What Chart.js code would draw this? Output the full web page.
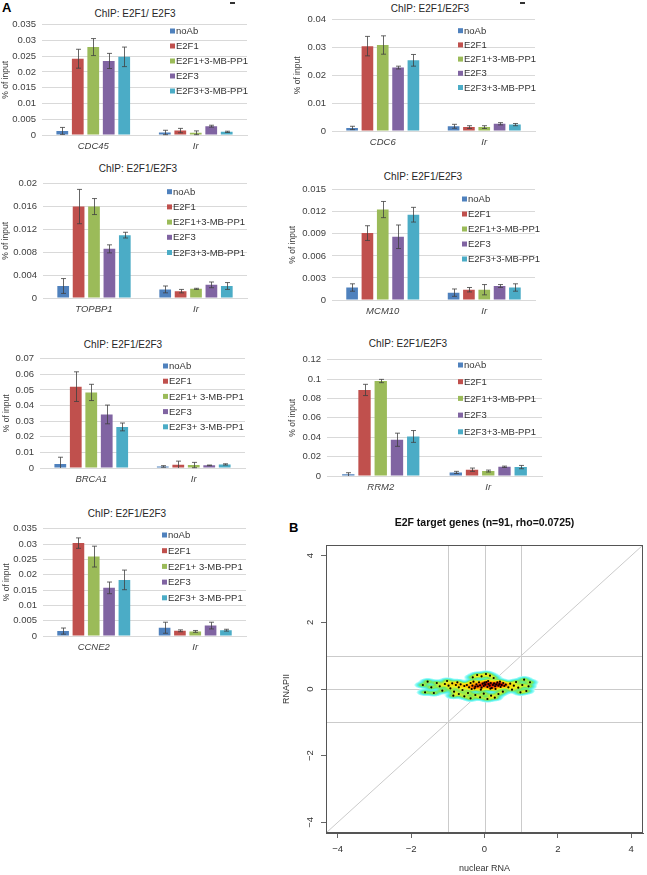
<!DOCTYPE html>
<html>
<head>
<meta charset="utf-8">
<script src="https://cdn.jsdelivr.net/npm/chart.js@4.4.1/dist/chart.umd.min.js"></script>
<style>
  body { margin: 0; background: #fff; font-family: "Liberation Sans", Arial, sans-serif; }
  #page { position: relative; width: 647px; height: 875px; overflow: hidden; }
  .box { position: absolute; }
  .ttl { position: absolute; font-size: 10px; color: #262626; white-space: nowrap; transform: translate(-50%, -50%); }
  .tag { position: absolute; font-weight: bold; font-size: 13px; color: #000; }
  .dash { position: absolute; width: 5px; height: 1.5px; background: #333; }
</style>
</head>
<body>
<div id="page">
  <div class="tag" style="left:2px;top:0px">A</div>
  <div class="tag" style="left:289px;top:520px">B</div>
  <div class="dash" style="left:230px;top:2px"></div>
  <div class="dash" style="left:520px;top:2px"></div>
</div>
<script>
// series names (two spellings are used on the figure)
const SERIES = ['noAb', 'E2F1', 'E2F1+3-MB-PP1', 'E2F3', 'E2F3+3-MB-PP1'];
const SERIES_SP = ['noAb', 'E2F1', 'E2F1+ 3-MB-PP1', 'E2F3', 'E2F3+ 3-MB-PP1'];
const BAR_COLORS = ['#4F81BD', '#C0504D', '#9BBB59', '#8064A2', '#4BACC6'];

// % of input; row 0 = target gene, row 1 = Ir control; columns follow SERIES
const CDC45_MEAN = [[0.0013, 0.0242, 0.0279, 0.0235, 0.0248], [0.0008, 0.0014, 0.0007, 0.0028, 0.0010]];
const CDC45_ERR = [[0.0011, 0.0030, 0.0027, 0.0024, 0.0031], [0.0007, 0.0007, 0.0006, 0.0003, 0.0002]];
const CDC6_MEAN = [[0.0011, 0.0305, 0.0309, 0.0228, 0.0254], [0.0017, 0.0014, 0.0014, 0.0026, 0.0023]];
const CDC6_ERR = [[0.0006, 0.0035, 0.0033, 0.0005, 0.0021], [0.0007, 0.0005, 0.0005, 0.0004, 0.0004]];
const TOPBP1_MEAN = [[0.0021, 0.0160, 0.0160, 0.0086, 0.0110], [0.0015, 0.0012, 0.0016, 0.0023, 0.0021]];
const TOPBP1_ERR = [[0.0013, 0.0030, 0.0014, 0.0007, 0.0005], [0.0006, 0.0003, 0.0001, 0.0005, 0.0006]];
const MCM10_MEAN = [[0.0017, 0.0091, 0.0123, 0.0086, 0.0116], [0.0010, 0.0014, 0.0014, 0.0019, 0.0017]];
const MCM10_ERR = [[0.0005, 0.0010, 0.0011, 0.0016, 0.0010], [0.0005, 0.0003, 0.0007, 0.0002, 0.0005]];
const BRCA1_MEAN = [[0.0025, 0.0521, 0.0484, 0.0343, 0.0263], [0.0010, 0.0021, 0.0019, 0.0017, 0.0023]];
const BRCA1_ERR = [[0.0044, 0.0095, 0.0052, 0.0060, 0.0025], [0.0005, 0.0023, 0.0017, 0.0002, 0.0004]];
const RRM2_MEAN = [[0.0017, 0.0888, 0.0980, 0.0374, 0.0408], [0.0037, 0.0065, 0.0051, 0.0095, 0.0092]];
const RRM2_ERR = [[0.0017, 0.0058, 0.0017, 0.0068, 0.0061], [0.0011, 0.0017, 0.0010, 0.0007, 0.0017]];
const CCNE2_MEAN = [[0.0016, 0.0303, 0.0259, 0.0157, 0.0183], [0.0027, 0.0017, 0.0015, 0.0034, 0.0019]];
const CCNE2_ERR = [[0.0010, 0.0017, 0.0034, 0.0019, 0.0032], [0.0018, 0.0003, 0.0003, 0.0011, 0.0003]];

// panel B: nuclear RNA vs RNAPII, 91 E2F targets (log2 FC)
const B_X = [-0.48, -0.42, -0.38, -0.33, -0.30, -0.27, -0.22, -0.18, -0.15, -0.12, -0.08, -0.05, -0.02, 0.02, 0.05, 0.08, 0.11, 0.14, 0.17, 0.20,
  0.23, 0.26, 0.29, 0.32, 0.35, 0.38, 0.41, 0.44, 0.47, 0.51, 0.54, 0.58, -0.25, 0.00, 0.16, 0.30, -0.10, 0.42, -0.35, 0.10,
  -1.68, -1.62, -1.55, -1.45, -1.38, -1.30, -1.22, -1.15, -1.08, -1.02, -0.98, -0.93, -0.88, -0.83, -0.78, -0.74, -0.70, -0.65, -0.60, -0.55,
  0.65, 0.70, 0.75, 0.80, 0.86, 0.92, 0.98, 1.03, 1.08, 1.14, 1.20, 1.24,
  -0.32, -0.20, -0.08, 0.04, 0.15, 0.25,
  -0.85, -0.70, -0.55, -0.45, -0.38, -0.25, -0.12, -0.02, 0.08, 0.18, 0.28, 0.38, 0.50];
const B_Y = [0.12, 0.05, 0.18, 0.10, 0.22, 0.02, 0.14, 0.08, 0.20, 0.11, 0.04, 0.16, 0.09, 0.13, 0.21, 0.06, 0.15, 0.10, 0.18, 0.03,
  0.12, 0.17, 0.08, 0.14, 0.20, 0.10, 0.15, 0.06, 0.12, 0.18, 0.09, 0.13, 0.07, 0.19, 0.01, 0.00, -0.02, 0.22, 0.00, 0.24,
  0.12, -0.10, 0.22, 0.05, -0.12, 0.18, 0.08, -0.05, 0.15, 0.24, 0.10, 0.02, 0.17, -0.08, 0.12, 0.20, 0.05, 0.14, -0.03, 0.09,
  0.05, 0.16, -0.02, 0.10, 0.21, 0.04, -0.10, 0.12, 0.28, -0.06, 0.08, 0.20,
  0.35, 0.42, 0.38, 0.45, 0.40, 0.33,
  -0.20, -0.15, -0.22, -0.12, -0.28, -0.18, -0.25, -0.14, -0.30, -0.20, -0.26, -0.15, -0.08];
const B_TICKS = [-4, -2, 0, 2, 4];
const B_REF = [-1, 0, 1];
const B_LIM = 4.32;

const FONT = '"Liberation Sans", Arial, sans-serif';
Chart.defaults.font.family = FONT;
Chart.defaults.color = '#404040';

const page = document.getElementById('page');

function fmtTick(v) { return String(parseFloat(Number(v).toFixed(4))); }

// error bars drawn from the dataset's own "errors" list
const errorBars = {
  id: 'errorBars',
  afterDatasetsDraw(chart) {
    const { ctx } = chart;
    const y = chart.scales.y;
    ctx.save();
    ctx.strokeStyle = '#404040';
    ctx.lineWidth = 0.8;
    chart.data.datasets.forEach((ds, i) => {
      chart.getDatasetMeta(i).data.forEach((bar, j) => {
        const v = ds.data[j], e = ds.errors[j];
        const top = y.getPixelForValue(v + e);
        const lowV = Math.max(v - e, 0);
        const bot = y.getPixelForValue(lowV);
        const xx = Math.round(bar.x) + 0.5;
        ctx.beginPath();
        ctx.moveTo(xx, top); ctx.lineTo(xx, bot);
        ctx.moveTo(xx - 2.5, top); ctx.lineTo(xx + 2.5, top);
        if (v - e > 0) { ctx.moveTo(xx - 2.5, bot); ctx.lineTo(xx + 2.5, bot); }
        ctx.stroke();
      });
    });
    ctx.restore();
  }
};

// vertical legend sitting inside the plot, Excel style
const sideLegend = {
  id: 'sideLegend',
  afterDraw(chart, args, o) {
    const { ctx } = chart;
    ctx.save();
    ctx.font = '9.5px ' + FONT;
    ctx.textBaseline = 'middle';
    chart.data.datasets.forEach((ds, i) => {
      const yy = o.y + i * o.dy;
      ctx.fillStyle = ds.backgroundColor;
      ctx.fillRect(o.x, yy - 2.5, 5, 5);
      ctx.fillStyle = '#333';
      ctx.fillText(ds.label, o.x + 6, yy + 0.5);
    });
    ctx.restore();
  }
};

const PANELS = [
  { gene: 'CDC45', mean: CDC45_MEAN, err: CDC45_ERR, names: SERIES, title: 'ChIP: E2F1/ E2F3', max: 0.035, step: 0.005,
    area: [42, 247, 23, 135], yTitleX: 6, titleAt: [135, 13], legend: [170, 31, 15] },
  { gene: 'CDC6', mean: CDC6_MEAN, err: CDC6_ERR, names: SERIES, title: 'ChIP: E2F1/E2F3', max: 0.04, step: 0.005,
    area: [332, 535, 18, 131], yTitleX: 298, titleAt: [430, 8], legend: [458, 30.7, 14.2] },
  { gene: 'TOPBP1', mean: TOPBP1_MEAN, err: TOPBP1_ERR, names: SERIES, title: 'ChIP: E2F1/E2F3', max: 0.02, step: 0.004,
    area: [43, 247, 182, 298], yTitleX: 6, titleAt: [138, 168], legend: [167, 191.7, 15.2] },
  { gene: 'MCM10', mean: MCM10_MEAN, err: MCM10_ERR, names: SERIES, title: 'ChIP: E2F1/E2F3', max: 0.015, step: 0.003,
    area: [332, 535, 188, 300], yTitleX: 293, titleAt: [423, 176], legend: [462, 199, 15] },
  { gene: 'BRCA1', mean: BRCA1_MEAN, err: BRCA1_ERR, names: SERIES_SP, title: 'ChIP: E2F1/E2F3', max: 0.07, step: 0.01,
    area: [40, 245, 357, 468], yTitleX: 7, titleAt: [123, 344], legend: [163, 366, 15.2] },
  { gene: 'RRM2', mean: RRM2_MEAN, err: RRM2_ERR, names: SERIES, title: 'ChIP: E2F1/E2F3', max: 0.12, step: 0.02,
    area: [327, 542, 358, 476], yTitleX: 293, titleAt: [408, 343], legend: [458, 365, 16.7] },
  { gene: 'CCNE2', mean: CCNE2_MEAN, err: CCNE2_ERR, names: SERIES_SP, title: 'ChIP: E2F1/E2F3', max: 0.035, step: 0.005,
    area: [43, 246, 527, 636], yTitleX: 7, titleAt: [127, 513], legend: [162, 535, 15.7] },
];

function addBox(left, top, w, h) {
  const d = document.createElement('div');
  d.className = 'box';
  Object.assign(d.style, { left: left + 'px', top: top + 'px', width: w + 'px', height: h + 'px' });
  const c = document.createElement('canvas');
  d.appendChild(c);
  page.appendChild(d);
  return c;
}

PANELS.forEach((p) => {
  const [aL, aR, aT, aB] = p.area;
  const left = Math.max(p.yTitleX - 6, 0);
  const top = aT - 10;
  const padR = 14;
  const w = aR + padR - left, h = aB + 22 - top;
  const yW = aL - left;

  const t = document.createElement('div');
  t.className = 'ttl';
  t.textContent = p.title;
  t.style.left = p.titleAt[0] + 'px';
  t.style.top = p.titleAt[1] + 'px';
  page.appendChild(t);

  const canvas = addBox(left, top, w, h);
  new Chart(canvas, {
    type: 'bar',
    data: {
      labels: [p.gene, 'Ir'],
      datasets: p.names.map((name, s) => ({
        label: name,
        data: [p.mean[0][s], p.mean[1][s]],
        errors: [p.err[0][s], p.err[1][s]],
        backgroundColor: BAR_COLORS[s],
        borderWidth: 0,
        categoryPercentage: 0.755,
        barPercentage: 0.76,
      })),
    },
    options: {
      responsive: true, maintainAspectRatio: false, animation: false, devicePixelRatio: 1,
      layout: { padding: { top: 10, right: padR, bottom: 0, left: 0 } },
      plugins: {
        legend: { display: false }, tooltip: { enabled: false },
        sideLegend: { x: p.legend[0] - left, y: p.legend[1] - top, dy: p.legend[2] },
      },
      scales: {
        x: {
          grid: { display: false, drawTicks: false },
          border: { display: true, color: '#D9D9D9' },
          ticks: { font: { size: 9.5, style: 'italic' }, color: '#404040', padding: 6 },
          afterFit: (s) => { s.height = 22; },
        },
        y: {
          min: 0, max: p.max,
          grid: { color: '#D9D9D9', drawTicks: false },
          border: { display: false },
          ticks: { stepSize: p.step, font: { size: 9.5 }, color: '#404040', padding: 6, callback: fmtTick },
          title: { display: true, text: '% of input', font: { size: 8.5 }, color: '#404040', padding: { top: 1, bottom: 0 } },
          afterFit: (s) => { s.width = yW; },
        },
      },
    },
    plugins: [errorBars, sideLegend],
  });
});

// ---- panel B ----
function rampColor(t) {
  const stops = [
    [0.00, [255, 255, 255]], [0.12, [170, 255, 250]], [0.28, [80, 238, 232]], [0.42, [110, 232, 100]],
    [0.56, [235, 240, 30]], [0.70, [255, 200, 0]], [0.82, [255, 120, 0]], [0.92, [230, 30, 0]], [1.00, [150, 0, 0]],
  ];
  for (let i = 1; i < stops.length; i++) {
    if (t <= stops[i][0]) {
      const [t0, c0] = stops[i - 1], [t1, c1] = stops[i];
      const f = (t - t0) / (t1 - t0);
      return c0.map((c, k) => Math.round(c + (c1[k] - c) * f));
    }
  }
  return stops[stops.length - 1][1];
}

const refLines = {
  id: 'refLines',
  beforeDatasetsDraw(chart) {
    const { ctx, chartArea: a, scales: { x, y } } = chart;
    ctx.save();
    ctx.beginPath(); ctx.rect(a.left, a.top, a.width, a.height); ctx.clip();
    ctx.strokeStyle = '#CBCBCB';
    ctx.lineWidth = 1;
    ctx.beginPath();
    B_REF.forEach((v) => {
      const px = Math.round(x.getPixelForValue(v)) + 0.5;
      const py = Math.round(y.getPixelForValue(v)) + 0.5;
      ctx.moveTo(px, a.top); ctx.lineTo(px, a.bottom);
      ctx.moveTo(a.left, py); ctx.lineTo(a.right, py);
    });
    ctx.moveTo(x.getPixelForValue(-B_LIM), y.getPixelForValue(-B_LIM));
    ctx.lineTo(x.getPixelForValue(B_LIM), y.getPixelForValue(B_LIM));
    ctx.stroke();
    ctx.restore();
  }
};

// smoothed density under the points
const density = {
  id: 'density',
  beforeDatasetsDraw(chart) {
    const { ctx, scales: { x, y } } = chart;
    const px = B_X.map((v) => x.getPixelForValue(v));
    const py = B_Y.map((v) => y.getPixelForValue(v));
    const sx = 3.2, sy = 1.4;
    const x0 = Math.floor(Math.min(...px) - 5 * sx), x1 = Math.ceil(Math.max(...px) + 5 * sx);
    const y0 = Math.floor(Math.min(...py) - 5 * sy), y1 = Math.ceil(Math.max(...py) + 5 * sy);
    const w = x1 - x0, h = y1 - y0;
    const dens = new Float32Array(w * h);
    for (let k = 0; k < px.length; k++) {
      for (let j = 0; j < h; j++) {
        const dy = (y0 + j + 0.5 - py[k]) / sy;
        if (Math.abs(dy) > 5) continue;
        for (let i = 0; i < w; i++) {
          const dx = (x0 + i + 0.5 - px[k]) / sx;
          if (Math.abs(dx) > 5) continue;
          dens[j * w + i] += Math.exp(-0.5 * (dx * dx + dy * dy));
        }
      }
    }
    let max = 0;
    for (let i = 0; i < dens.length; i++) if (dens[i] > max) max = dens[i];
    const off = document.createElement('canvas');
    off.width = w; off.height = h;
    const octx = off.getContext('2d');
    const img = octx.createImageData(w, h);
    for (let i = 0; i < dens.length; i++) {
      const r = dens[i] / max;
      if (r < 0.005) continue;
      const t = Math.pow(r, 0.45);
      const c = rampColor(Math.min(t, 1));
      img.data[i * 4] = c[0]; img.data[i * 4 + 1] = c[1]; img.data[i * 4 + 2] = c[2];
      img.data[i * 4 + 3] = Math.round(255 * Math.min(1, r / 0.015));
    }
    octx.putImageData(img, 0, 0);
    ctx.drawImage(off, x0, y0);
  }
};

const frame = {
  id: 'frame',
  afterDraw(chart) {
    const { ctx, chartArea: a, scales: { y } } = chart;
    ctx.save();
    ctx.strokeStyle = '#555';
    ctx.lineWidth = 1;
    ctx.strokeRect(Math.round(a.left) + 0.5, Math.round(a.top) + 0.5, Math.round(a.width) - 1, Math.round(a.height) - 1);
    ctx.fillStyle = '#333';
    ctx.font = '9.5px ' + FONT;
    ctx.textAlign = 'center';
    ctx.textBaseline = 'middle';
    B_TICKS.forEach((v) => {
      ctx.save();
      ctx.translate(a.left - 16, y.getPixelForValue(v));
      ctx.rotate(-Math.PI / 2);
      ctx.fillText(v < 0 ? '\u2212' + Math.abs(v) : String(v), 0, 0);
      ctx.restore();
    });
    ctx.restore();
  }
};

const bCanvas = addBox(280, 505, 367, 370);
new Chart(bCanvas, {
  type: 'scatter',
  data: {
    datasets: [{
      data: B_X.map((v, i) => ({ x: v, y: B_Y[i] })),
      backgroundColor: '#000', borderWidth: 0, pointRadius: 1.1,
    }],
  },
  options: {
    responsive: true, maintainAspectRatio: false, animation: false, devicePixelRatio: 1,
    layout: { padding: { top: 12, right: 1, bottom: 0, left: 0 } },
    plugins: {
      legend: { display: false }, tooltip: { enabled: false },
      title: {
        display: true, fullSize: false, text: 'E2F target genes (n=91, rho=0.0725)',
        font: { size: 10.5, weight: 'bold' }, color: '#111', padding: { top: 0, bottom: 15.4 },
      },
    },
    scales: {
      x: {
        min: -B_LIM, max: B_LIM,
        afterBuildTicks: (s) => { s.ticks = B_TICKS.map((v) => ({ value: v })); },
        grid: { drawOnChartArea: false, drawTicks: true, tickLength: 5, color: '#666' },
        border: { color: '#555' },
        ticks: { font: { size: 9.5 }, color: '#333', padding: 6, callback: (v) => (v < 0 ? '\u2212' + Math.abs(v) : String(v)) },
        title: { display: true, text: 'nuclear RNA', font: { size: 9 }, color: '#333', padding: { top: 0, bottom: 0.6 } },
        afterFit: (s) => { s.height = 42; },
      },
      y: {
        min: -B_LIM, max: B_LIM,
        afterBuildTicks: (s) => { s.ticks = B_TICKS.map((v) => ({ value: v })); },
        grid: { drawOnChartArea: false, drawTicks: true, tickLength: 5, color: '#666' },
        border: { color: '#555' },
        ticks: { display: false },
        title: { display: true, text: 'RNAPII', font: { size: 9 }, color: '#333', padding: { top: 1.6, bottom: 0 } },
        afterFit: (s) => { s.width = 46; },
      },
    },
  },
  plugins: [refLines, density, frame],
});
</script>
</body>
</html>
